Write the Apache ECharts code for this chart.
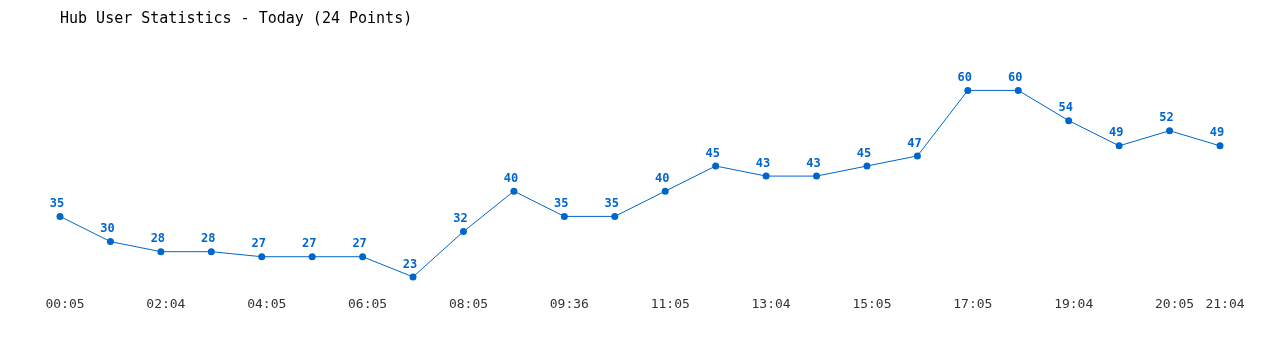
<!DOCTYPE html>
<html><head><meta charset="utf-8">
<script src="https://cdn.jsdelivr.net/npm/echarts@6/dist/echarts.min.js"></script>
<style>html,body{margin:0;padding:0;background:#fff}#c{width:1280px;height:350px}</style>
</head><body><div id="c"></div>
<script>
const titleText = "Hub User Statistics - Today (24 Points)";
const categories = ["00:05","01:04","02:04","03:05","04:05","05:05","06:05","07:05","08:05","09:04","09:36","10:05","11:05","12:05","13:04","14:05","15:05","16:05","17:05","18:05","19:04","19:36","20:05","21:04"];
const users = [35,30,28,28,27,27,27,23,32,40,35,35,40,45,43,43,45,47,60,60,54,49,52,49];

const chart = echarts.init(document.getElementById('c'));
chart.setOption({
  animation: false,
  backgroundColor: '#fff',
  title: {
    text: titleText, left: 55, top: 7,
    textStyle: {fontFamily: 'DejaVu Sans Mono', fontSize: 15, fontWeight: 'normal', color: '#000'}
  },
  grid: {left: 60, right: 60, top: 40, bottom: 58},
  xAxis: {
    type: 'category', data: categories, boundaryGap: false,
    axisLine: {show: false}, axisTick: {show: false},
    axisLabel: {
      interval: (i) => i % 2 === 0 || i === categories.length - 1,
      fontFamily: 'DejaVu Sans Mono', fontSize: 13, color: '#333', margin: 6,
      padding: [0, 0, 0, 10]
    }
  },
  yAxis: {type: 'value', min: 20, max: 70, show: false, splitLine: {show: false}},
  series: [{
    type: 'line', data: users,
    symbol: 'circle', symbolSize: 7,
    lineStyle: {color: '#0066cc', width: 1},
    itemStyle: {color: '#0066cc'},
    label: {show: true, position: 'top', distance: 3, offset: [-3, 0], fontFamily: 'DejaVu Sans Mono', fontSize: 12, fontWeight: 'bold', color: '#0066cc'}
  }]
});
</script></body></html>
